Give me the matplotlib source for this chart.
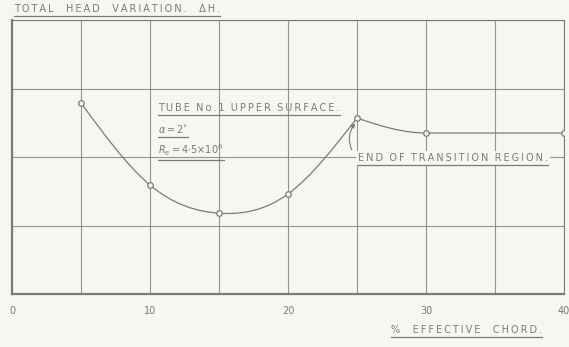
import matplotlib
matplotlib.use("Agg")
import matplotlib.pyplot as plt
import numpy as np
from matplotlib.path import Path
from matplotlib.patches import PathPatch
from matplotlib.lines import Line2D

# readings
chord_pct = [5, 10, 15, 20, 25, 30, 40]
head_var = [2.79, 1.59, 1.18, 1.46, 2.57, 2.35, 2.35]
x_ticks = [0, 10, 20, 30, 40]
# the drawn curve has a sharp corner at the end of transition (25 %)
corner_idx = 4

ink = "#7a7a76"
paper = "#f6f6f2"


def natural_slopes(x, y):
    # first derivatives of a natural cubic spline through the points
    x = np.asarray(x, float)
    y = np.asarray(y, float)
    n = len(x)
    h = np.diff(x)
    A = np.zeros((n, n))
    b = np.zeros(n)
    A[0, 0], A[-1, -1] = 1, 1
    for i in range(1, n - 1):
        A[i, i - 1] = h[i - 1]
        A[i, i] = 2 * (h[i - 1] + h[i])
        A[i, i + 1] = h[i]
        b[i] = 3 * ((y[i + 1] - y[i]) / h[i] - (y[i] - y[i - 1]) / h[i - 1])
    c = np.linalg.solve(A, b)
    m = np.zeros(n)
    for i in range(n - 1):
        m[i] = (y[i + 1] - y[i]) / h[i] - h[i] * (2 * c[i] + c[i + 1]) / 3
    m[-1] = (y[-1] - y[-2]) / h[-1] + h[-1] * (c[-2] + 2 * c[-1]) / 3
    return m


def bezier_path(x, y, m):
    verts = [(x[0], y[0])]
    codes = [Path.MOVETO]
    for i in range(len(x) - 1):
        h = x[i + 1] - x[i]
        verts += [(x[i] + h / 3, y[i] + m[i] * h / 3),
                  (x[i + 1] - h / 3, y[i + 1] - m[i + 1] * h / 3),
                  (x[i + 1], y[i + 1])]
        codes += [Path.CURVE4] * 3
    return Path(verts, codes)


def spaced(s, gap=2):
    # wide drafting-style lettering
    return (" " * gap).join("\u2009".join(w) for w in s.split())


def underline(fig, txt, pad=2, lw=0.9):
    fig.canvas.draw()
    bb = txt.get_window_extent()
    inv = fig.transFigure.inverted()
    (x0, y0), (x1, _) = inv.transform([(bb.x0, bb.y0 - pad), (bb.x1, bb.y0 - pad)])
    fig.add_artist(Line2D([x0, x1], [y0, y0], color=ink, lw=lw,
                          transform=fig.transFigure))


fig = plt.figure(figsize=(5.69, 3.47), dpi=100, facecolor=paper)
ax = fig.add_axes([12 / 569, 53 / 347, 552 / 569, 274 / 347])
ax.set_facecolor(paper)
ax.set_xlim(0, 40)
ax.set_ylim(0, 4)

ax.set_xticks(np.arange(0, 41, 5))
ax.set_yticks(np.arange(0, 5, 1))
ax.grid(True, color=ink, lw=0.8, alpha=0.8)
ax.tick_params(length=0, labelleft=False, labelbottom=False)
for side, sp in ax.spines.items():
    sp.set_color(ink)
    sp.set_linewidth(1.6 if side in ("left", "bottom") else 0.8)

# rising part up to the corner, then the settling part
xa, ya = chord_pct[:corner_idx + 1], head_var[:corner_idx + 1]
xb, yb = chord_pct[corner_idx:], head_var[corner_idx:]
mb = np.array([(yb[1] - yb[0]) / (xb[1] - xb[0]) * 1.6, 0.0, 0.0])
for px, py, pm in ((xa, ya, natural_slopes(xa, ya)), (xb, yb, mb)):
    ax.add_patch(PathPatch(bezier_path(px, py, pm), fill=False,
                           edgecolor=ink, lw=0.9))
ax.plot(chord_pct, head_var, "o", ms=4, mfc=paper, mec=ink, mew=0.9, zorder=3)

for t in x_ticks:
    ax.text(t, -0.17, str(t), ha="center", va="top", fontsize=7,
            color=ink, clip_on=False)

tfont = dict(fontsize=7, color=ink, family="DejaVu Sans")
t1 = fig.text(14 / 569, 1 - 9 / 347,
              spaced("TOTAL HEAD VARIATION. \u0394H.", gap=4),
              ha="left", va="center", **tfont)
t2 = ax.text(10.6, 2.72, spaced("TUBE No.1 UPPER SURFACE."), ha="left",
             va="center", **tfont)
t3 = ax.text(10.6, 2.41, r"$\alpha = 2^{\circ}$", ha="left", va="center",
             fontsize=7, color=ink)
t4 = ax.text(10.6, 2.1, r"$R_e = 4{\cdot}5{\times}10^{6}$", ha="left",
             va="center", fontsize=7, color=ink)
t5 = ax.text(25.05, 1.99, spaced("END OF TRANSITION REGION."), ha="left",
             va="center", bbox=dict(fc=paper, ec="none", pad=1.5), **tfont)
t6 = fig.text(391 / 569, 1 - 330 / 347, spaced("% EFFECTIVE CHORD.", gap=4),
              ha="left", va="center", **tfont)
for t in (t1, t2, t3, t4, t5, t6):
    underline(fig, t)

ax.annotate("", xy=(chord_pct[corner_idx], head_var[corner_idx] - 0.05),
            xytext=(24.7, 2.07),
            arrowprops=dict(arrowstyle="-|>", color=ink, lw=0.8,
                            mutation_scale=6,
                            connectionstyle="arc3,rad=-0.35"))

fig.savefig("out.png", dpi=100, facecolor=paper)
